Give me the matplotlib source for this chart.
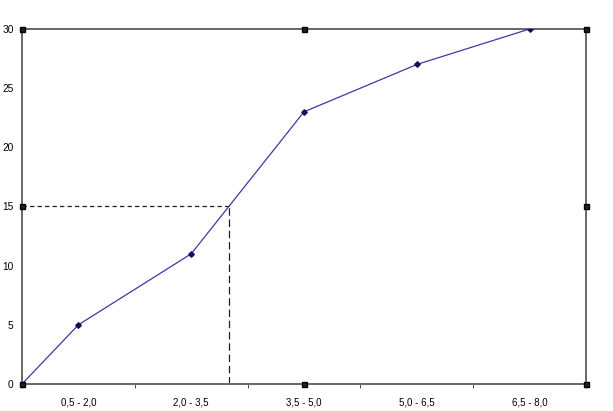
import matplotlib
matplotlib.use("Agg")
import matplotlib.pyplot as plt
import numpy as np

categories = ["0,5 - 2,0", "2,0 - 3,5", "3,5 - 5,0", "5,0 - 6,5", "6,5 - 8,0"]
cumulative = [5, 11, 23, 27, 30]
start_value = 0
median_level = 15
y_ticks = [0, 5, 10, 15, 20, 25, 30]

plt.rcParams['font.family'] = ['Liberation Sans', 'DejaVu Sans']

fig = plt.figure(figsize=(6.13, 4.11), dpi=100)
W, H = 613, 411
ax = fig.add_axes([22 / W, 1 - 384 / H, (586 - 22) / W, (384 - 29) / H])

n = len(categories)
xc = np.arange(n)
xs = np.concatenate([[-0.5], xc])
ys = np.concatenate([[start_value], cumulative])

ax.plot(xs, ys, color='#3a3aa8', lw=0.9, zorder=3)
ax.plot(xc, cumulative, linestyle='none', marker='D', ms=2.8, color='#10105a', zorder=4)

# median construction
i = int(np.searchsorted(cumulative, median_level))
x0, x1 = xc[i - 1], xc[i]
y0, y1 = cumulative[i - 1], cumulative[i]
xm = x0 + (median_level - y0) / (y1 - y0) * (x1 - x0)
ax.plot([-0.5, xm], [median_level, median_level], color='#202020', lw=0.9,
        linestyle=(0, (3.5, 2.5)), zorder=2)
ax.plot([xm, xm], [0, median_level], color='#202020', lw=0.9,
        linestyle=(0, (6, 3)), zorder=2)

ax.set_xlim(-0.5, n - 0.5)
ax.set_ylim(0, 30)
ax.set_yticks(y_ticks)
ax.set_yticklabels([str(v) for v in y_ticks], fontsize=7.3)
ax.set_xticks(xc)
ax.set_xticklabels(categories, fontsize=7)
ax.set_xticks(np.arange(n + 1) - 0.5, minor=True)
ax.tick_params(axis='x', which='major', length=0, pad=10)
ax.tick_params(axis='x', which='minor', length=3, direction='out', color='#303030')
ax.tick_params(axis='y', length=0, pad=6)

for s in ax.spines.values():
    s.set_color('#6a6a6a')
    s.set_linewidth(1.4)
    s.set_linestyle((0, (0.5, 0.5)))

# selection handles
hx = [-0.5, (n - 1) / 2, n - 0.5]
hy = [0, 15, 30]
for px in hx:
    for py in hy:
        if px == hx[1] and py == hy[1]:
            continue
        ax.plot([px], [py], marker='s', ms=3.6, mfc='#202020', mec='black', mew=1.0,
                clip_on=False, zorder=6)

fig.savefig("out.png", dpi=100, facecolor='white')
